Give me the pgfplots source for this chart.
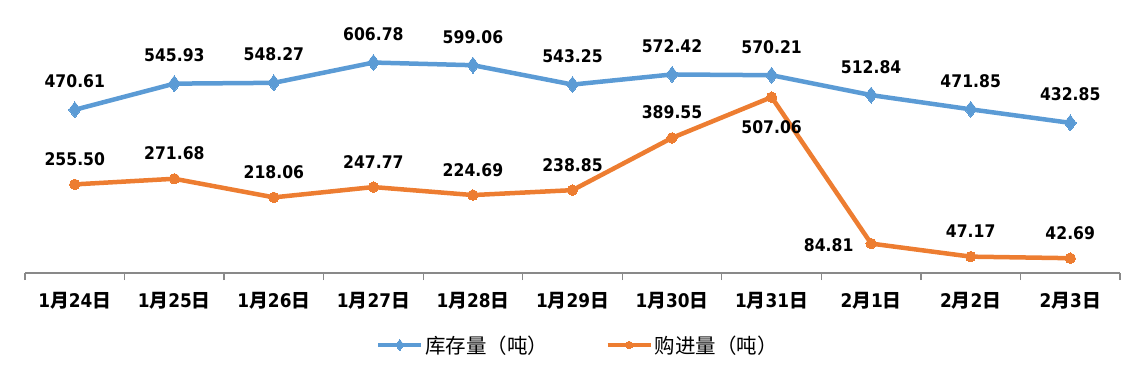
\documentclass[border=0pt]{standalone}
\usepackage{pgfplots}
\pgfplotsset{compat=1.18}
\usepackage{fontspec}
\setmainfont{Noto Sans CJK SC}
\newfontfamily\numfont[FakeStretch=0.9]{DejaVu Sans}
\definecolor{cblue}{HTML}{5B9BD5}
\definecolor{corange}{HTML}{ED7D31}
\definecolor{axgray}{HTML}{898989}
\newcommand\dg[1]{{\numfont\bfseries #1}}
\begin{document}
\begin{tikzpicture}
\useasboundingbox (0,0) rectangle (1147pt,367pt);
\begin{axis}[
  at={(25pt,94pt)}, anchor=south west,
  scale only axis, width=1095pt, height=242.8pt,
  xmin=-0.5, xmax=10.5, ymin=0, ymax=700,
  axis x line*=bottom, axis y line=none,
  x axis line style={draw=axgray, line width=1.2pt, -},
  xtick={0,...,10}, major tick length=0pt,
  minor xtick={-0.5,0.5,...,10.5}, minor tick length=7pt, tick align=outside,
  minor tick style={draw=axgray, line width=1.2pt},
  xticklabels={{\dg{1}月\dg{24}日},{\dg{1}月\dg{25}日},{\dg{1}月\dg{26}日},{\dg{1}月\dg{27}日},{\dg{1}月\dg{28}日},{\dg{1}月\dg{29}日},{\dg{1}月\dg{30}日},{\dg{1}月\dg{31}日},{\dg{2}月\dg{1}日},{\dg{2}月\dg{2}日},{\dg{2}月\dg{3}日}},
  xticklabel style={font=\fontsize{18.8}{21}\selectfont\bfseries, text=black, anchor=base, inner sep=0pt, yshift=-34.5pt},
  clip=false,
  legend style={at={(0.505,-0.2965)}, anchor=center, draw=none, fill=none, legend columns=2,
    font=\fontsize{20.5}{22}\selectfont, text=black,
    /tikz/every even column/.append style={column sep=55pt}},
  legend cell align=left,
  legend image code/.code={\draw[#1, mark repeat=2, mark phase=2, every mark/.append style={scale=0.7}] plot coordinates {(0pt,0pt) (21.5pt,0pt) (43pt,0pt)};},
  every node near coord/.append style={font=\fontsize{17.4}{20}\selectfont\numfont\bfseries, text=black, inner sep=0pt},
]
\addplot[cblue, line width=4.5pt, line join=round, mark=diamond*, mark size=8pt, mark options={solid, line width=0pt},
  nodes near coords, point meta=explicit symbolic,
  every node near coord/.append style={anchor=base, yshift=22pt}]
coordinates {(0,470.61)[470.61] (1,545.93)[545.93] (2,548.27)[548.27] (3,606.78)[606.78] (4,599.06)[599.06] (5,543.25)[543.25] (6,572.42)[572.42] (7,570.21)[570.21] (8,512.84)[512.84] (9,471.85)[471.85] (10,432.85)[432.85]};
\addlegendentry{库存量（吨）}
\addplot[corange, line width=4.5pt, line join=round, mark=*, mark size=5.2pt, mark options={solid, line width=0pt}]
coordinates {(0,255.50) (1,271.68) (2,218.06) (3,247.77) (4,224.69) (5,238.85) (6,389.55) (7,507.06) (8,84.81) (9,47.17) (10,42.69)};
\addlegendentry{购进量（吨）}
\addplot[draw=none, mark=none, forget plot, nodes near coords, point meta=explicit symbolic,
  every node near coord/.append style={anchor=base, yshift=19pt}]
coordinates {(0,255.50)[255.50] (1,271.68)[271.68] (2,218.06)[218.06] (3,247.77)[247.77] (4,224.69)[224.69] (5,238.85)[238.85] (6,389.55)[389.55] (9,47.17)[47.17] (10,42.69)[42.69]};
\addplot[draw=none, mark=none, forget plot, nodes near coords, point meta=explicit symbolic,
  every node near coord/.append style={anchor=base, yshift=-36pt}]
coordinates {(7,507.06)[507.06]};
\addplot[draw=none, mark=none, forget plot, nodes near coords, point meta=explicit symbolic,
  every node near coord/.append style={anchor=base east, xshift=-17.5pt, yshift=-8pt}]
coordinates {(8,84.81)[84.81]};
\end{axis}
\end{tikzpicture}
\end{document}
